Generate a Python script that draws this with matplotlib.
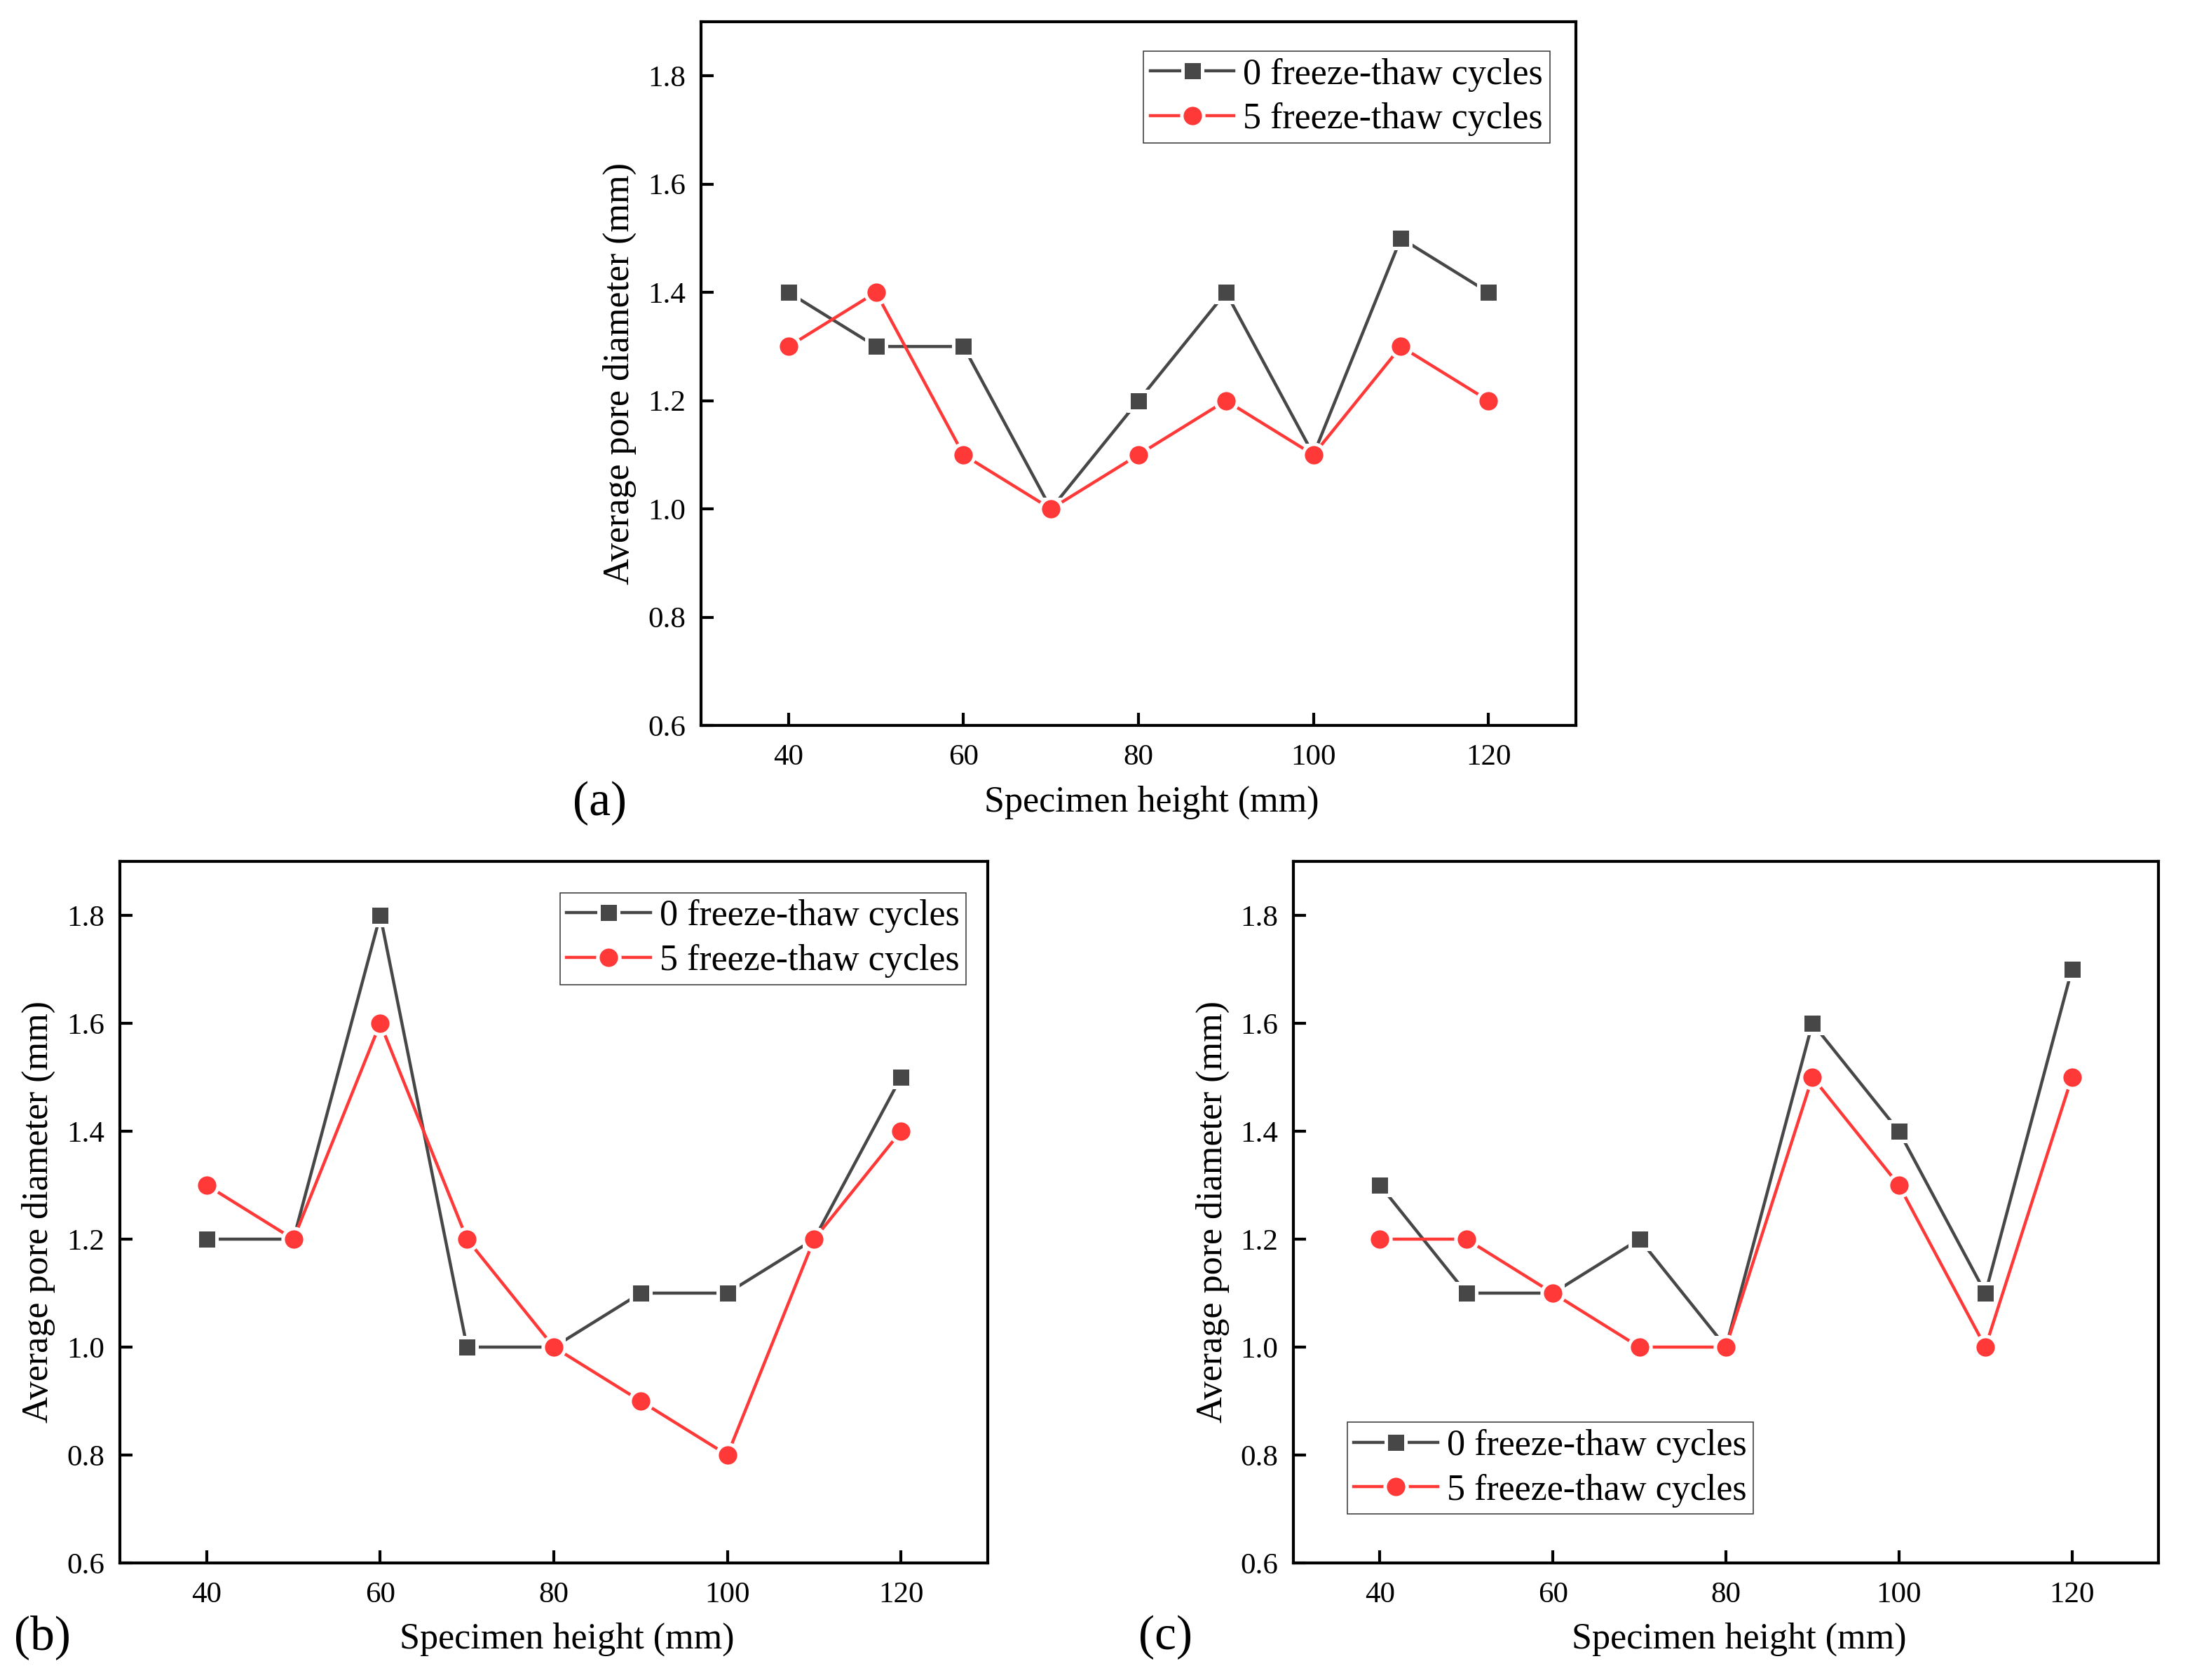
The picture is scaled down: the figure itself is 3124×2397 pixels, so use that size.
import numpy as np
import matplotlib
matplotlib.use("Agg")
import matplotlib.pyplot as plt

# specimen heights (mm)
heights = [40, 50, 60, 70, 80, 90, 100, 110, 120]

# average pore diameter (mm)
a_ft0 = [1.4, 1.3, 1.3, 1.0, 1.2, 1.4, 1.1, 1.5, 1.4]
a_ft5 = [1.3, 1.4, 1.1, 1.0, 1.1, 1.2, 1.1, 1.3, 1.2]

b_ft0 = [1.2, 1.2, 1.8, 1.0, 1.0, 1.1, 1.1, 1.2, 1.5]
b_ft5 = [1.3, 1.2, 1.6, 1.2, 1.0, 0.9, 0.8, 1.2, 1.4]

c_ft0 = [1.3, 1.1, 1.1, 1.2, 1.0, 1.6, 1.4, 1.1, 1.7]
c_ft5 = [1.2, 1.2, 1.1, 1.0, 1.0, 1.5, 1.3, 1.0, 1.5]

series_labels = ["0 freeze-thaw cycles", "5 freeze-thaw cycles"]
panel_tags = ["(a)", "(b)", "(c)"]
xticks = [40, 60, 80, 100, 120]
yticks = [0.6, 0.8, 1.0, 1.2, 1.4, 1.6, 1.8]

plt.rcParams["font.family"] = ["Liberation Serif", "DejaVu Serif"]

W, H = 3124, 2397
fig = plt.figure(figsize=(W / 100, H / 100), dpi=100)
fig.patch.set_facecolor("white")

GRAY = "#474747"
RED = "#ff3838"

def add_ax(left, right, top, bottom):
    return fig.add_axes([left / W, 1 - bottom / H, (right - left) / W, (bottom - top) / H])

def draw_panel(ax, y0, y5, legend_anchor, legend_loc):
    # white marker edge mimics the small gap between line and symbol
    ax.plot(heights, y0, color=GRAY, lw=3.2, marker="s", ms=20.5, mfc=GRAY,
            mec="white", mew=3.6, label=series_labels[0], zorder=3)
    ax.plot(heights, y5, color=RED, lw=3.2, marker="o", ms=22.5, mfc=RED,
            mec="white", mew=3.6, label=series_labels[1], zorder=4)
    ax.set_xlim(30, 130)
    ax.set_ylim(0.6, 1.9)
    ax.set_xticks(xticks)
    ax.set_xticklabels([str(v) for v in xticks], family="Liberation Serif")
    ax.set_yticks(yticks)
    ax.set_yticklabels([f"{v:.1f}" for v in yticks], family="Liberation Serif")
    ax.tick_params(direction="in", length=13, width=3.0, labelsize=31,
                   top=False, right=False)
    ax.tick_params(axis="x", pad=19)
    ax.tick_params(axis="y", pad=16)
    for sp in ax.spines.values():
        sp.set_linewidth(3.0)
    ax.set_xlabel("Specimen height (mm)", fontsize=37.5)
    ax.set_ylabel("Average pore diameter (mm)", fontsize=37.5)
    ax.xaxis.set_label_coords(0.515, -0.085)
    ax.yaxis.set_label_coords(-0.074, 0.5)
    leg = ax.legend(loc=legend_loc, bbox_to_anchor=legend_anchor, borderaxespad=0,
                    fontsize=37.5, handlelength=2.3, handletextpad=0.25,
                    borderpad=0.18, labelspacing=0.3, fancybox=False,
                    framealpha=1, edgecolor="#333333")
    leg.get_frame().set_linewidth(1.1)

ax_a = add_ax(1000, 2248, 31, 1035)
draw_panel(ax_a, a_ft0, a_ft5, (0.970, 0.958), "upper right")

ax_b = add_ax(171, 1409, 1229, 2230)
draw_panel(ax_b, b_ft0, b_ft5, (0.975, 0.955), "upper right")

ax_c = add_ax(1845, 3079, 1229, 2230)
draw_panel(ax_c, c_ft0, c_ft5, (0.062, 0.070), "lower left")

# panel tags
for tag, (px, py) in zip(panel_tags, [(856, 1146), (60, 2336), (1662, 2336)]):
    fig.text(px / W, 1 - py / H, tag, fontsize=50, ha="center", va="center")

fig.savefig("out.png", dpi=100, facecolor="white")
